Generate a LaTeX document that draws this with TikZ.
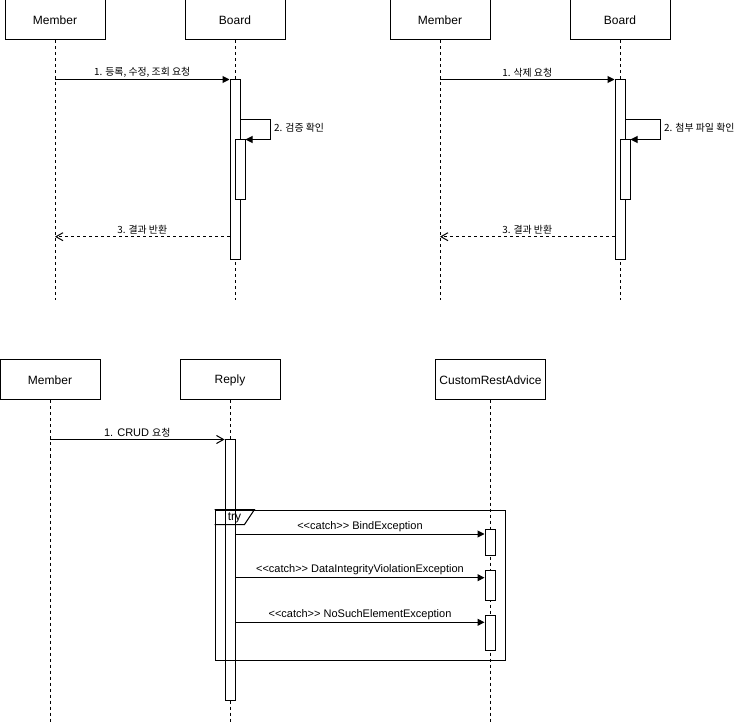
\documentclass[tikz,border=0pt]{standalone}
\usepackage{fontspec}
\setmainfont{Liberation Sans}
\newfontfamily\kr[Scale=0.9]{Noto Sans CJK KR}
\usepackage{tikz}
\usetikzlibrary{positioning,arrows.meta,calc}
\newcommand\catchtag{<\kern0pt<catch>\kern0pt>}
\tikzset{
  actor/.style={rectangle,draw,line width=1pt,fill=white,minimum width=100pt,
    minimum height=40pt,inner sep=0pt,font=\fontsize{12}{14}\selectfont},
  lifeline/.style={line width=1pt,dash pattern=on 3pt off 3pt},
  act/.style={rectangle,draw,line width=1pt,fill=white,minimum width=10pt,inner sep=0pt},
  msg/.style={line width=1pt,-{Triangle[length=7pt,width=7pt]}},
  call/.style={line width=1pt,-{Straight Barb[length=7pt,width=8pt]}},
  ret/.style={line width=1pt,dash pattern=on 3pt off 3pt,-{Straight Barb[length=7pt,width=8pt]}},
  lbl/.style={inner sep=2pt,font=\fontsize{11}{13}\selectfont},
  krlbl/.style={inner sep=2pt,font=\kr\fontsize{11}{13}\selectfont},
  tryframe/.style={rectangle,draw,line width=1pt,inner sep=0pt}
}

\begin{document}
\begin{tikzpicture}[x=1pt,y=-1pt]
\useasboundingbox (0,0) rectangle (740,722);

\node[actor] (m1) at (55,20) {Member};
\node[actor,right=79pt of m1] (b1) {Board};
\node[actor,right=104pt of b1] (m2) {Member};
\node[actor,right=79pt of m2] (b2) {Board};

\coordinate (m1end) at (m1 |- 0,300);
\coordinate (b1end) at (b1 |- 0,300);
\coordinate (m2end) at (m2 |- 0,300);
\coordinate (b2end) at (b2 |- 0,300);
\draw[lifeline] (m1) -- (m1end);
\draw[lifeline] (b1) -- (b1end);
\draw[lifeline] (m2) -- (m2end);
\draw[lifeline] (b2) -- (b2end);

\node[act,minimum height=180pt] (b1act) at (235,170) {};
\node[act,minimum height=60pt] (b1sub) at (240,170) {};
\node[act,minimum height=180pt] (b2act) at (620,170) {};
\node[act,minimum height=60pt] (b2sub) at (625,170) {};

\draw[msg] (m1 |- b1act.north) -- (b1act.north west)
  node[krlbl,midway,above] {1. 등록, 수정, 조회 요청};
\draw[msg] (b1act.east |- 0,120) -- ++(30,0) |- (b1sub.north east);
\node[krlbl,anchor=west] (chk1) at (272,128) {2. 검증 확인};
\draw[ret] (b1act.west |- 0,236.7) -- (m1 |- 0,236.7)
  node[krlbl,midway,above] {3. 결과 반환};

\draw[msg] (m2 |- b2act.north) -- (b2act.north west)
  node[krlbl,midway,above] {1. 삭제 요청};
\draw[msg] (b2act.east |- 0,120) -- ++(35,0) |- (b2sub.north east);
\node[krlbl,anchor=west] (chk2) at (662,128) {2. 첨부 파일 확인};
\draw[ret] (b2act.west |- 0,236.7) -- (m2 |- 0,236.7)
  node[krlbl,midway,above] {3. 결과 반환};

\node[actor] (m3) at (50,380) {Member};
\node[actor,right=79pt of m3] (r3) {Reply};
\node[actor,minimum width=110pt,right=154.5pt of r3] (cra) {CustomRestAdvice};

\coordinate (m3end) at (m3 |- 0,722);
\coordinate (r3end) at (r3 |- 0,722);
\coordinate (craend) at (cra |- 0,722);
\draw[lifeline] (m3) -- (m3end);
\draw[lifeline] (r3) -- (r3end);
\draw[lifeline] (cra) -- (craend);

\node[act,minimum height=260pt] (ract) at (230,570) {};
\node[tryframe,minimum width=290pt,minimum height=150pt] (try) at (360,585) {};
\draw[line width=1pt] (try.north west) -- ++(40,0) -- ++(-10,15) -- ++(-30,0);
\node[font=\fontsize{12}{14}\selectfont,inner sep=0pt] (trylbl) at (234.5,517.5) {try};

\node[act,minimum height=26pt] (c1) at (490,542) {};
\node[act,minimum height=30pt] (c2) at (490,585.3) {};
\node[act,minimum height=35pt] (c3) at (490,632.8) {};

\draw[call] (m3 |- ract.north) -- (ract.north west)
  node[lbl,midway,above] {1. CRUD {\kr 요청}};
\draw[msg] (ract.east |- 0,534) -- (c1.west |- 0,534)
  node[lbl,midway,above] {\catchtag{} BindException};
\draw[msg] (ract.east |- 0,577.7) -- (c2.west |- 0,577.7)
  node[lbl,midway,above] {\catchtag{} DataIntegrityViolationException};
\draw[msg] (ract.east |- 0,622.3) -- (c3.west |- 0,622.3)
  node[lbl,midway,above] {\catchtag{} NoSuchElementException};
\end{tikzpicture}
\end{document}
